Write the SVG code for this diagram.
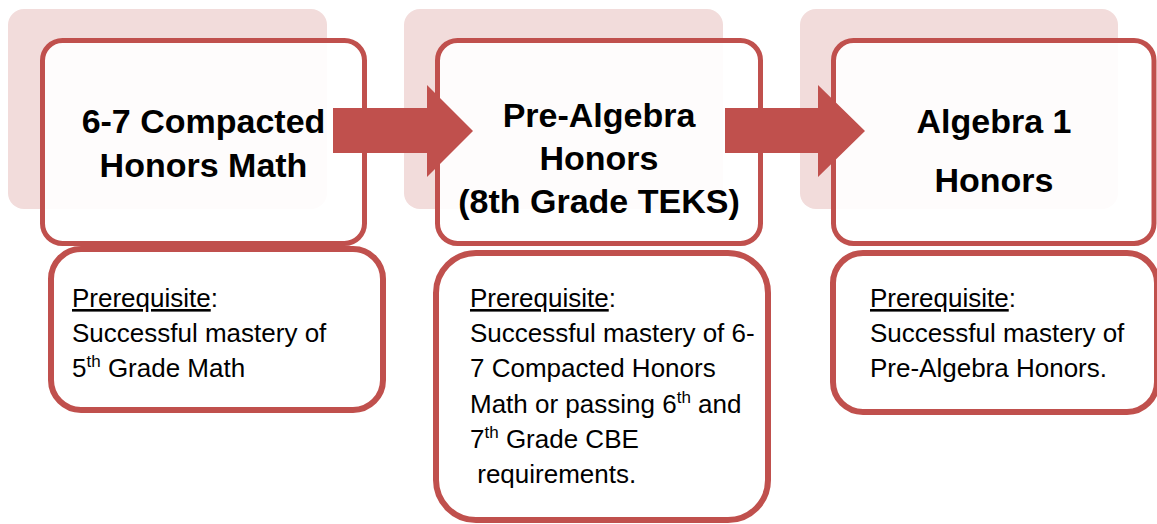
<svg xmlns="http://www.w3.org/2000/svg" width="1157" height="524" viewBox="0 0 1157 524">
<style>
.bg{fill:#f2dcdb;}
.main{fill:#ffffff;fill-opacity:0.9;stroke:#c0504d;stroke-width:5;}
.sub{fill:#ffffff;stroke:#c0504d;stroke-width:6;}
.arrow{fill:#c0504d;}
.title{font-family:"Liberation Sans",Arial,sans-serif;font-weight:bold;font-size:34px;fill:#000;text-anchor:middle;}
.body{font-family:"Liberation Sans",Arial,sans-serif;font-size:26px;fill:#000;white-space:pre;}
.u{text-decoration:underline;}
.sup{font-size:17px;}
</style>
<rect width="1157" height="524" fill="#ffffff"/>
<g id="node1">
<rect class="bg" x="8" y="9" width="319" height="200" rx="16"/>
<rect class="main" x="42.5" y="40.5" width="322" height="203" rx="20"/>
<text class="title" x="203.5" y="133">6-7 Compacted</text>
<text class="title" x="203.5" y="177">Honors Math</text>
</g>
<g id="node2">
<rect class="bg" x="404" y="9" width="319" height="200" rx="16"/>
<rect class="main" x="437.5" y="40.5" width="323" height="203" rx="20"/>
<text class="title" x="599" y="127">Pre-Algebra</text>
<text class="title" x="599" y="170">Honors</text>
<text class="title" x="599" y="213">(8th Grade TEKS)</text>
</g>
<g id="node3">
<rect class="bg" x="800" y="9" width="318" height="200" rx="16"/>
<rect class="main" x="833.5" y="40.5" width="320.5" height="203" rx="20"/>
<text class="title" x="994" y="133">Algebra 1</text>
<text class="title" x="994" y="192">Honors</text>
</g>
<g id="prereq1">
<rect class="sub" x="51" y="249" width="332" height="161" rx="30"/>
<text class="body" x="72" y="307"><tspan class="u">Prerequisite</tspan>:</text>
<text class="body" x="72" y="342">Successful mastery of</text>
<text class="body" x="72" y="377">5<tspan class="sup" dy="-10">th</tspan><tspan dy="10"> Grade Math</tspan></text>
</g>
<g id="prereq2">
<rect class="sub" x="436" y="253" width="332" height="267" rx="40"/>
<text class="body" x="470" y="307"><tspan class="u">Prerequisite</tspan>:</text>
<text class="body" x="470" y="342">Successful mastery of 6-</text>
<text class="body" x="470" y="377">7 Compacted Honors</text>
<text class="body" x="470" y="413">Math or passing 6<tspan class="sup" dy="-10">th</tspan><tspan dy="10"> and</tspan></text>
<text class="body" x="470" y="448">7<tspan class="sup" dy="-10">th</tspan><tspan dy="10"> Grade CBE</tspan></text>
<text class="body" x="470" y="483"> requirements.</text>
</g>
<g id="prereq3">
<rect class="sub" x="833" y="253" width="324" height="159" rx="30"/>
<text class="body" x="870" y="307"><tspan class="u">Prerequisite</tspan>:</text>
<text class="body" x="870" y="342">Successful mastery of</text>
<text class="body" x="870" y="377">Pre-Algebra Honors.</text>
</g>
<g id="connectors">
<polygon class="arrow" points="333,108 427,108 427,85 473,131 427,177 427,153 333,153"/>
<polygon class="arrow" points="725,108 818,108 818,85 865,131 818,177 818,153 725,153"/>
</g>
</svg>
